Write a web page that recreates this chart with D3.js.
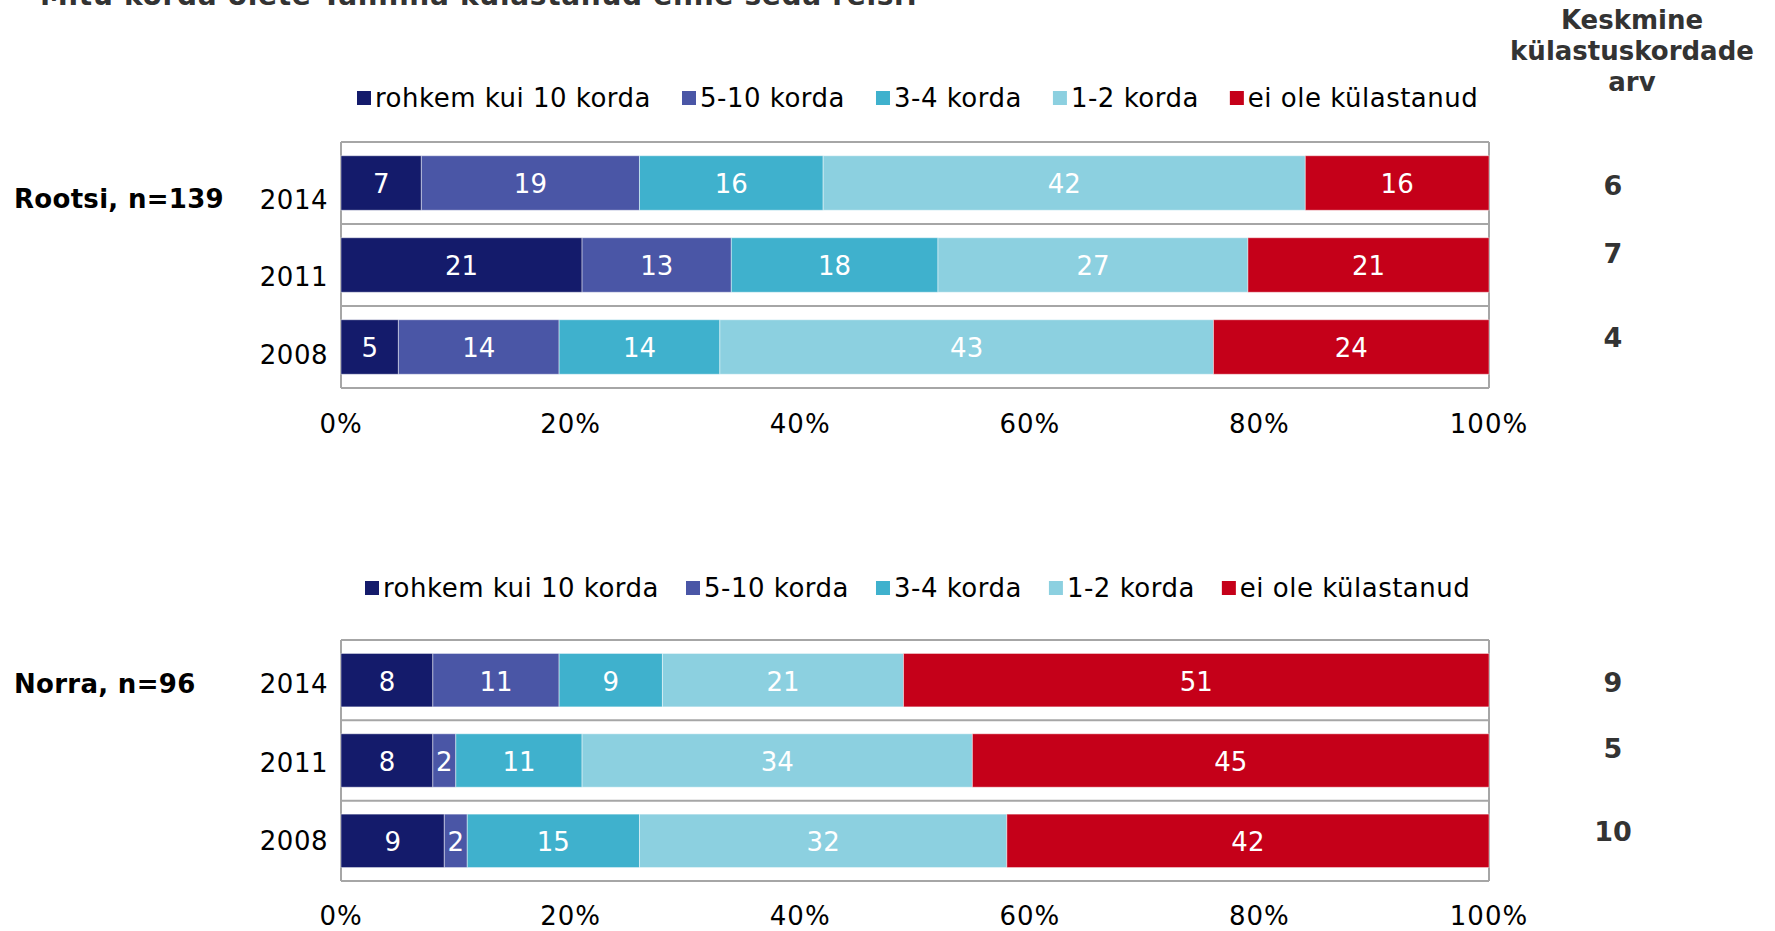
<!DOCTYPE html>
<html>
<head>
<meta charset="utf-8">
<script src="https://cdn.jsdelivr.net/npm/d3@7"></script>
<style>
  body { margin: 0; background: #fff; }
  svg { display: block; font-family: "DejaVu Sans", Verdana, sans-serif; }
</style>
</head>
<body>
<svg id="chart"></svg>
<script>
// categories and values
var categories = ["rohkem kui 10 korda", "5-10 korda", "3-4 korda", "1-2 korda", "ei ole külastanud"]
var years = ["2014", "2011", "2008"]
var rootsiValues = [[7, 19, 16, 42, 16], [21, 13, 18, 27, 21], [5, 14, 14, 43, 24]]
var norraValues = [[8, 11, 9, 21, 51], [8, 2, 11, 34, 45], [9, 2, 15, 32, 42]]
var rootsiMeans = [6, 7, 4]
var norraMeans = [9, 5, 10]
var tickValues = [0, 20, 40, 60, 80, 100]
var titleText = "Mitu korda olete Tallinna külastanud enne seda reisi?"
var meanHeader = ["Keskmine", "külastuskordade", "arv"]

var colors = ["#141b6b", "#4a56a6", "#3fb1cd", "#8cd0e0", "#c50019"]

var dimensions = {
    width: 1775,
    height: 931,
    left: 341,
    right: 1489
}

var svg = d3.select("#chart")
            .attr("width", dimensions.width)
            .attr("height", dimensions.height)

var xScale = d3.scaleLinear()
               .domain([0, 100])
               .range([dimensions.left, dimensions.right])

var color = d3.scaleOrdinal()
              .domain(categories)
              .range(colors)

// title (mostly cut off at the top edge)
svg.append("text")
   .attr("x", 40)
   .attr("y", 5)
   .style("font-size", "28px")
   .style("letter-spacing", "0.7px")
   .style("font-weight", "bold")
   .style("fill", "#333")
   .text(titleText)

// header for the mean column
svg.append("g")
   .selectAll("text")
   .data(meanHeader)
   .enter()
   .append("text")
   .attr("x", 1632)
   .attr("y", (d, i) => 29 + i * 31)
   .attr("text-anchor", "middle")
   .style("font-size", "26px")
   .style("font-weight", "bold")
   .style("fill", "#333")
   .text(d => d)

function drawPanel(values, means, groupLabel, opt) {
    var g = svg.append("g")

    var yScale = d3.scaleBand()
                   .domain(years)
                   .range([opt.top, opt.bottom])
                   .paddingInner(0.335)
                   .paddingOuter(0.1675)

    var labelScale = d3.scalePoint()
                       .domain(years)
                       .range(opt.labelRange)

    // legend
    var legend = g.append("g")
    var lx = opt.legendX
    categories.forEach(function(c) {
        legend.append("rect")
              .attr("x", lx)
              .attr("y", opt.legendY - 7)
              .attr("width", 14)
              .attr("height", 14)
              .style("fill", color(c))
        var t = legend.append("text")
                      .attr("x", lx + 18)
                      .attr("y", opt.legendY)
                      .attr("dy", "0.36em")
                      .style("font-size", "26px")
                      .style("letter-spacing", "0.5px")
                      .style("fill", "#000")
                      .text(c)
        lx = lx + 18 + t.node().getComputedTextLength() + opt.legendGap
    })

    // frame and row separators
    var bounds = [opt.top].concat(years.map(y => yScale(y) - yScale.step() * yScale.paddingInner() / 2).slice(1)).concat([opt.bottom])
    g.append("g")
     .selectAll("line")
     .data(bounds)
     .enter()
     .append("line")
     .attr("x1", xScale(0))
     .attr("x2", xScale(100))
     .attr("y1", d => d)
     .attr("y2", d => d)
     .style("stroke", "#a6a6a6")
     .style("stroke-width", 2)
    g.append("g")
     .selectAll("line")
     .data([0, 100])
     .enter()
     .append("line")
     .attr("x1", d => xScale(d))
     .attr("x2", d => xScale(d))
     .attr("y1", opt.top)
     .attr("y2", opt.bottom)
     .style("stroke", "#a6a6a6")
     .style("stroke-width", 2)

    // stacked segments
    var segments = []
    values.forEach(function(row, i) {
        var acc = 0
        row.forEach(function(v, j) {
            segments.push({year: years[i], cat: categories[j], x0: acc, x1: acc + v, v: v})
            acc += v
        })
    })

    g.append("g")
     .selectAll("rect")
     .data(segments)
     .enter()
     .append("rect")
     .attr("x", d => xScale(d.x0))
     .attr("y", d => yScale(d.year))
     .attr("width", d => xScale(d.x1) - xScale(d.x0))
     .attr("height", yScale.bandwidth())
     .style("fill", d => color(d.cat))
     .style("stroke", "rgba(255,255,255,0.45)")
     .style("stroke-width", 1)

    g.append("g")
     .selectAll("text")
     .data(segments)
     .enter()
     .append("text")
     .attr("x", d => xScale((d.x0 + d.x1) / 2))
     .attr("y", d => yScale(d.year) + yScale.bandwidth() / 2 + 1)
     .attr("dy", "0.36em")
     .attr("text-anchor", "middle")
     .style("font-size", "26px")
     .style("fill", "#fff")
     .text(d => d.v)

    // year labels
    g.append("g")
     .selectAll("text")
     .data(years)
     .enter()
     .append("text")
     .attr("x", 328)
     .attr("y", d => labelScale(d))
     .attr("dy", "0.36em")
     .attr("text-anchor", "end")
     .style("font-size", "26px")
     .style("letter-spacing", "0.5px")
     .style("fill", "#000")
     .text(d => d)

    // group label
    g.append("text")
     .attr("x", 14)
     .attr("y", opt.groupY)
     .attr("dy", "0.36em")
     .style("font-size", "26px")
     .style("letter-spacing", "0.3px")
     .style("font-weight", "bold")
     .style("fill", "#000")
     .text(groupLabel)

    // x ticks
    g.append("g")
     .selectAll("text")
     .data(tickValues)
     .enter()
     .append("text")
     .attr("x", d => xScale(d))
     .attr("y", opt.tickY)
     .attr("dy", "0.36em")
     .attr("text-anchor", "middle")
     .style("font-size", "26px")
     .style("letter-spacing", "1px")
     .style("fill", "#000")
     .text(d => d + "%")

    // mean column, sitting a little above the bar centres
    var meanShift = [2, -12, -10]
    g.append("g")
     .selectAll("text")
     .data(means)
     .enter()
     .append("text")
     .attr("x", 1613)
     .attr("y", (d, i) => yScale(years[i]) + yScale.bandwidth() / 2 + meanShift[i])
     .attr("dy", "0.36em")
     .attr("text-anchor", "middle")
     .style("font-size", "27px")
     .style("font-weight", "bold")
     .style("fill", "#333")
     .text(d => d)
}

drawPanel(rootsiValues, rootsiMeans, "Rootsi, n=139", {
    top: 142, bottom: 388,
    legendX: 357, legendY: 98, legendGap: 31,
    labelRange: [199.5, 354.5],
    groupY: 199,
    tickY: 424
})

drawPanel(norraValues, norraMeans, "Norra, n=96", {
    top: 640, bottom: 881,
    legendX: 365, legendY: 588, legendGap: 27,
    labelRange: [684, 841],
    groupY: 684,
    tickY: 916
})
</script>
</body>
</html>
